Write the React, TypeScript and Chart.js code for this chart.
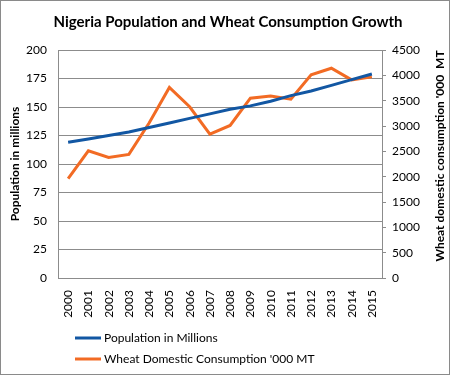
import React, { useEffect, useRef } from "react";
import { Chart, registerables } from "chart.js";

Chart.register(...registerables);

const chartTitle = "Nigeria Population and Wheat Consumption Growth";
const leftAxisTitle = "Population in millions";
const rightAxisTitle = "Wheat domestic consumption '000  MT";
const years = ["2000", "2001", "2002", "2003", "2004", "2005", "2006", "2007", "2008", "2009", "2010", "2011", "2012", "2013", "2014", "2015"];
const populationLabel = "Population in Millions";
const population = [119, 122, 125, 128, 132, 136, 140, 144, 148, 151, 155, 160, 164, 169, 174, 179];
const wheatLabel = "Wheat Domestic Consumption '000 MT";
const wheat = [1960, 2510, 2380, 2440, 3060, 3760, 3380, 2840, 3010, 3550, 3590, 3530, 4010, 4140, 3910, 3970];

const BLUE = "#1257A3";
const ORANGE = "#F26B24";
const GRID = "#8C8C8C";
const FONT = "Lato";

const decorPlugin = {
  id: "decor",
  afterDraw(chart: any) {
    const { ctx, chartArea } = chart;
    const midY = (chartArea.top + chartArea.bottom) / 2;
    ctx.save();
    // outer border
    ctx.strokeStyle = "#8A8A8A";
    ctx.lineWidth = 1;
    ctx.strokeRect(0.5, 0.5, chart.width - 1, chart.height - 1);
    // title
    ctx.fillStyle = "#000";
    ctx.font = `bold 15px ${FONT}`;
    ctx.textAlign = "center";
    ctx.textBaseline = "middle";
    ctx.fillText(chartTitle, 228, 22);
    // axis titles
    ctx.font = `bold 12px ${FONT}`;
    ctx.save();
    ctx.translate(15, midY);
    ctx.rotate(-Math.PI / 2);
    ctx.fillText(leftAxisTitle, 0, 0);
    ctx.restore();
    ctx.save();
    ctx.translate(440, midY - 8);
    ctx.rotate(-Math.PI / 2);
    ctx.fillText(rightAxisTitle, 0, 0);
    ctx.restore();
    // legend
    const items = [
      { label: chart.data.datasets[0].label, color: chart.data.datasets[0].borderColor, y: 338 },
      { label: chart.data.datasets[1].label, color: chart.data.datasets[1].borderColor, y: 359 },
    ];
    ctx.font = `12px ${FONT}`;
    ctx.textAlign = "left";
    for (const it of items) {
      ctx.strokeStyle = it.color;
      ctx.lineWidth = 3;
      ctx.beginPath();
      ctx.moveTo(75, it.y);
      ctx.lineTo(101, it.y);
      ctx.stroke();
      ctx.fillStyle = "#000";
      ctx.fillText(it.label, 104, it.y);
    }
    ctx.restore();
  },
};

export default function App() {
  const ref = useRef<HTMLCanvasElement>(null);
  useEffect(() => {
    document.body.style.margin = "0";
    const chart = new Chart(ref.current!, {
      type: "line",
      data: {
        labels: years,
        datasets: [
          {
            label: populationLabel,
            data: population,
            borderColor: BLUE,
            backgroundColor: BLUE,
            borderWidth: 3,
            pointRadius: 0,
            tension: 0,
            yAxisID: "y",
          },
          {
            label: wheatLabel,
            data: wheat,
            borderColor: ORANGE,
            backgroundColor: ORANGE,
            borderWidth: 3,
            pointRadius: 0,
            tension: 0,
            yAxisID: "y2",
          },
        ],
      },
      options: {
        responsive: false,
        animation: false,
        layout: { padding: { top: 50, bottom: 57, left: 0, right: 0 } },
        plugins: {
          legend: { display: false },
          title: { display: false },
          tooltip: { enabled: false },
        },
        scales: {
          x: {
            offset: true,
            grid: { display: false },
            border: { display: true, color: GRID },
            ticks: {
              autoSkip: false,
              minRotation: 90,
              maxRotation: 90,
              padding: 4,
              color: "#000",
              font: { family: FONT, size: 12 },
            },
            afterFit: (s: any) => {
              s.height = 40;
            },
          },
          y: {
            position: "left",
            min: 0,
            max: 200,
            ticks: {
              stepSize: 25,
              padding: 11,
              color: "#000",
              font: { family: FONT, size: 12 },
              callback: (v: any) => String(v),
            },
            grid: { color: GRID, drawTicks: false },
            border: { display: true, color: GRID },
            afterFit: (s: any) => {
              s.width = 58;
            },
          },
          y2: {
            position: "right",
            min: 0,
            max: 4500,
            ticks: {
              stepSize: 500,
              padding: 6,
              color: "#000",
              font: { family: FONT, size: 12 },
              callback: (v: any) => String(v),
            },
            grid: { drawOnChartArea: false, drawTicks: true, tickLength: 4, color: GRID },
            border: { display: true, color: GRID },
            afterFit: (s: any) => {
              s.width = 68;
            },
          },
        },
      },
      plugins: [decorPlugin],
    });
    return () => chart.destroy();
  }, []);
  return (
    <div style={{ width: 450, height: 375 }}>
      <canvas ref={ref} width={450} height={375} />
    </div>
  );
}
